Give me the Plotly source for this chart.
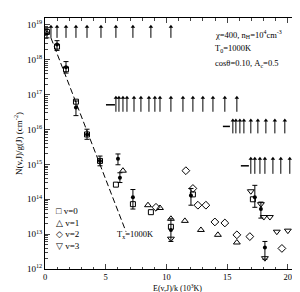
import plotly.graph_objects as go

# ---------------- data (E/k in 10^3 K, log10 of N(v,J)/g(J) in cm^-2) ----------------
x_ticks = [0, 5, 10, 15, 20]
y_exps = [12, 13, 14, 15, 16, 17, 18, 19]

# model populations by vibrational level
v0_E = [0.16, 0.99, 1.73, 2.55, 3.46, 4.53, 5.84, 7.24, 8.72, 10.37, 12.18, 17.12]
v0_logN = [18.80, 18.38, 17.73, 16.80, 15.86, 15.10, 14.42, 13.86, 13.63, 13.21, 14.14, 14.00]

v1_E = [6.42, 8.48, 9.47, 10.37, 11.52, 12.84, 14.24, 15.80]
v1_logN = [14.82, 13.83, 13.75, 13.44, 13.38, 13.12, 12.98, 12.76]

v2_E = [9.14, 11.60, 12.18, 12.59, 13.25, 13.99, 14.81, 15.80, 16.87, 19.51, 20.99]
v2_logN = [13.77, 14.82, 14.31, 13.83, 13.83, 13.35, 13.32, 12.98, 12.93, 12.59, 12.42]

v3_E = [10.37, 16.95, 17.78, 18.02, 18.52, 19.09, 20.00, 18.11]
v3_logN = [12.87, 14.23, 13.86, 13.49, 13.49, 13.07, 13.10, 12.31]

# observed columns with error bars
obs_E = [0.16, 0.99, 1.73, 2.55, 3.46, 4.53, 6.01, 6.17, 7.24, 12.02, 10.37, 17.28, 17.78, 18.11]
obs_logN = [18.77, 18.44, 17.79, 16.63, 15.86, 15.10, 15.16, 14.62, 14.06, 14.11, 13.12, 14.06, 13.72, 12.62]
obs_logN_hi = [18.92, 18.55, 17.95, 16.82, 16.01, 15.24, 15.30, 14.76, 14.28, 14.31, 13.44, 14.40, 13.92, 12.79]
obs_logN_lo = [18.63, 18.27, 17.62, 16.40, 15.72, 14.96, 14.99, 14.48, 13.72, 13.83, 12.79, 13.77, 13.46, 12.28]

# lower limits (arrows) in rows
limA_E = [0.49, 0.99, 1.73, 2.55, 3.46, 4.61, 5.84, 7.24, 8.72, 10.37]
limA_lo, limA_hi = 18.63, 18.95
limB_E = [5.84, 6.09, 6.42, 6.75, 7.33, 7.90, 8.56, 9.05, 9.47, 10.37, 11.36, 12.18, 13.00, 13.83, 14.81, 15.80]
limB_lo, limB_hi = 16.51, 16.91
limC_E = [15.47, 15.72, 16.05, 16.38, 16.95, 17.53, 18.19, 18.93, 19.75, 20.58]
limC_lo, limC_hi = 15.89, 16.26
limD_E = [16.95, 17.28, 17.70, 18.11, 18.77, 19.42, 20.16, 20.74]
limD_lo, limD_hi = 14.73, 15.16

# short horizontal bars at the start of the limit rows
bar_E0 = [5.02, 14.65, 16.13]
bar_E1 = [5.76, 15.23, 16.79]
bar_logN = [16.71, 16.09, 14.96]

# T = 1000 K reference line
line_E = [0.49, 6.67]
line_logN = [18.63, 13.07]

# ---------------- figure ----------------
def p(v):
    return [10 ** a for a in v]

fig = go.Figure()
blk = "black"

fig.add_trace(go.Scatter(x=line_E, y=p(line_logN), mode="lines",
                         line=dict(color=blk, width=1, dash="6px,3px"), hoverinfo="skip"))

for E, lo, hi in [(limA_E, limA_lo, limA_hi), (limB_E, limB_lo, limB_hi),
                  (limC_E, limC_lo, limC_hi), (limD_E, limD_lo, limD_hi)]:
    xs, ys = [], []
    for e in E:
        xs += [e, e, None]
        ys += [10 ** lo, 10 ** hi, None]
    fig.add_trace(go.Scatter(x=xs, y=ys, mode="lines", line=dict(color=blk, width=1)))
    fig.add_trace(go.Scatter(x=E, y=[10 ** hi] * len(E), mode="markers",
                             marker=dict(symbol="triangle-up", size=4, color=blk)))

xs, ys = [], []
for a, b, c in zip(bar_E0, bar_E1, bar_logN):
    xs += [a, b, None]
    ys += [10 ** c, 10 ** c, None]
fig.add_trace(go.Scatter(x=xs, y=ys, mode="lines", line=dict(color=blk, width=1.5)))

fig.add_trace(go.Scatter(
    x=obs_E, y=p(obs_logN), mode="markers",
    marker=dict(symbol="circle", size=4, color=blk),
    error_y=dict(type="data", symmetric=False,
                 array=[10 ** h - 10 ** c for h, c in zip(obs_logN_hi, obs_logN)],
                 arrayminus=[10 ** c - 10 ** l for l, c in zip(obs_logN_lo, obs_logN)],
                 color=blk, thickness=1, width=2.5)))

for E, N, sym, sz in [(v0_E, v0_logN, "square-open", 5),
                      (v1_E, v1_logN, "triangle-up-open", 6),
                      (v2_E, v2_logN, "diamond-open", 6),
                      (v3_E, v3_logN, "triangle-down-open", 6)]:
    fig.add_trace(go.Scatter(x=E, y=p(N), mode="markers",
                             marker=dict(symbol=sym, size=sz, color=blk,
                                         line=dict(width=1, color=blk))))

font = "Liberation Serif, DejaVu Serif, serif"

fig.update_layout(
    width=300, height=292,
    margin=dict(l=37, r=8, t=10, b=31),
    paper_bgcolor="white", plot_bgcolor="white",
    showlegend=False,
    font=dict(family=font, size=9, color=blk),
    xaxis=dict(range=[0, 21], tickvals=x_ticks, ticks="inside", ticklen=5,
               showline=True, linecolor=blk, linewidth=1, mirror="ticks",
               showgrid=False, zeroline=False, tickfont=dict(size=8.5),
               automargin=False,
               minor=dict(ticks="inside", ticklen=2.5, dtick=1, showgrid=False)),
    yaxis=dict(type="log", range=[12, 19.2],
               tickvals=[10 ** e for e in y_exps],
               ticktext=["10<sup>%d</sup>" % e for e in y_exps],
               ticks="inside", ticklen=5, automargin=False,
               showline=True, linecolor=blk, linewidth=1, mirror="ticks",
               showgrid=False, zeroline=False,
               minor=dict(ticks="inside", ticklen=2.5, dtick="D1", showgrid=False),
               title=dict(text="N(v,J)/g(J) (cm<sup>-2</sup>)", standoff=2,
                          font=dict(size=9))),
)

ann = [
    ("\u03c7=400, n<sub>H</sub>=10<sup>4</sup>cm<sup>-3</sup>", 13.8, 18.72),
    ("T<sub>0</sub>=1000K", 13.8, 18.32),
    ("cos\u03b8=0.10, A<sub>c</sub>=0.5", 13.8, 17.90),
    ("T<sub>x</sub>=1000K", 5.76, 12.98),
]
for t, x, y in ann:
    fig.add_annotation(text=t, x=x, y=y, xref="x", yref="y", showarrow=False,
                       xanchor="left", yanchor="middle", font=dict(size=8.5, family=font))

# x-axis title
fig.add_annotation(text="E(v,J)/k (10<sup>3</sup>K)", xref="paper", yref="paper",
                   x=0.52, y=-0.076, xanchor="center", yanchor="middle", showarrow=False,
                   font=dict(size=8, family=font))

fig.add_annotation(text="\u25a1 v=0<br>\u25b3 v=1<br>\u25c7 v=2<br>\u25bd v=3",
                   xref="paper", yref="paper", x=0.035, y=0.16,
                   xanchor="left", yanchor="middle", align="left", showarrow=False,
                   font=dict(size=9, family=font))

fig.write_html("out.html")
